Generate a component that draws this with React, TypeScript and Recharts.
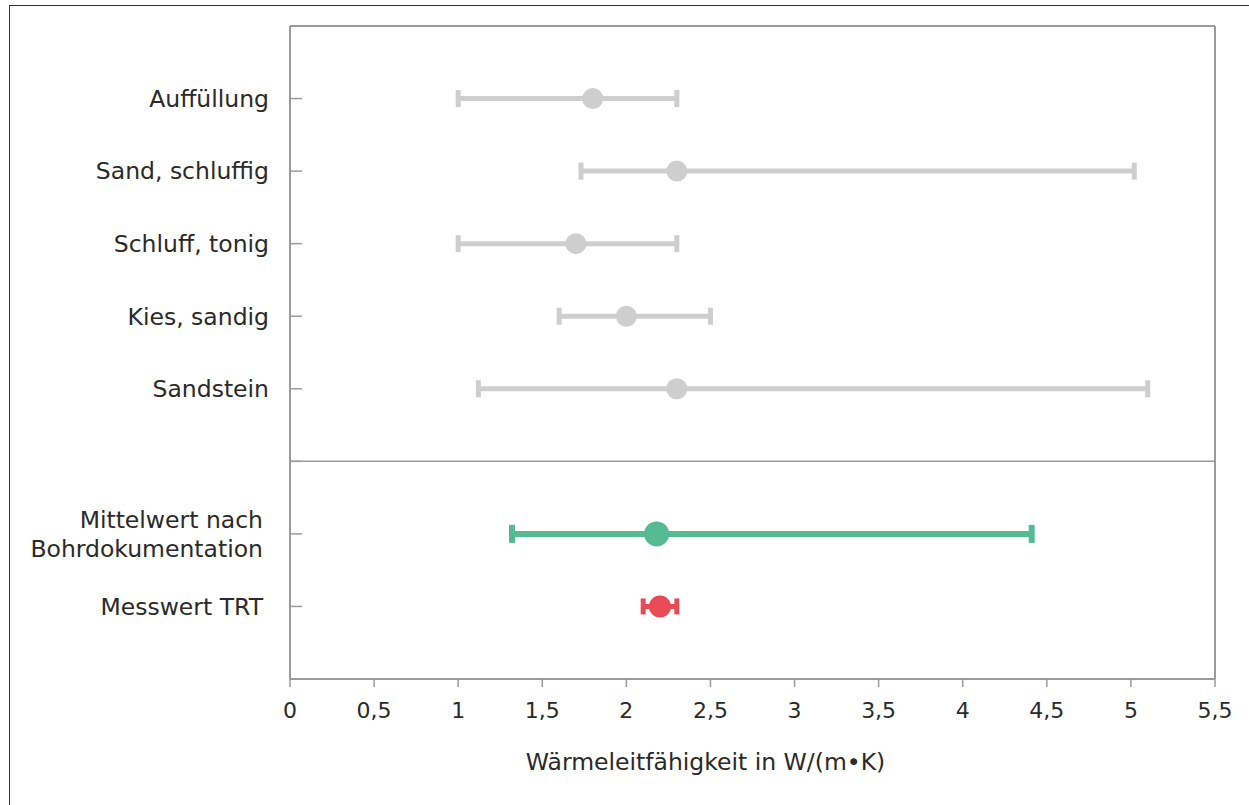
import React from 'react';
import { ScatterChart, Scatter, XAxis, YAxis, ErrorBar, ReferenceLine, Label } from 'recharts';

// Category labels by row position (row 6 is the separator line)
const rowLabels = [
  'Auffüllung',
  'Sand, schluffig',
  'Schluff, tonig',
  'Kies, sandig',
  'Sandstein',
  '',
  'Mittelwert nach\nBohrdokumentation',
  'Messwert TRT',
];
const rowTicks = [1, 2, 3, 4, 5, 6, 7, 8];

// Soil types (literature ranges)
const soilRows = [1, 2, 3, 4, 5];
const soilMeans = [1.8, 2.3, 1.7, 2.0, 2.3];
const soilLows = [1.0, 1.73, 1.0, 1.6, 1.12];
const soilHighs = [2.3, 5.02, 2.3, 2.5, 5.1];

// Mean after borehole documentation
const boreRows = [7];
const boreMeans = [2.18];
const boreLows = [1.32];
const boreHighs = [4.41];

// Measured TRT value
const trtRows = [8];
const trtMeans = [2.2];
const trtLows = [2.1];
const trtHighs = [2.3];

const xTicks = [0, 0.5, 1, 1.5, 2, 2.5, 3, 3.5, 4, 4.5, 5, 5.5];
const xTitle = 'Wärmeleitfähigkeit in W/(m•K)';

const build = (rows: number[], means: number[], lows: number[], highs: number[]) =>
  rows.map((r, i) => ({ x: means[i], y: r, err: [means[i] - lows[i], highs[i] - means[i]] }));

const soilData = build(soilRows, soilMeans, soilLows, soilHighs);
const boreData = build(boreRows, boreMeans, boreLows, boreHighs);
const trtData = build(trtRows, trtMeans, trtLows, trtHighs);

const FONT = '"DejaVu Sans", "Open Sans", sans-serif';
const TEXT = '#2a2a2a';
const AXIS = '#9b9b9b';
const GRAY = '#cfcecf';
const GREEN = '#56ba93';
const RED = '#e84b55';
const LABEL_SIZE = 23.5;

const YTick = (props: any) => {
  const { x, y, payload } = props;
  const label = rowLabels[payload.value - 1] ?? '';
  const lines = label ? label.split('\n') : [];
  const tx = payload.value >= 7 ? x - 27 : x - 21;
  const lh = 29;
  return (
    <g>
      <line x1={x} x2={x + 12} y1={y} y2={y} stroke={AXIS} strokeWidth={1.5} />
      <text textAnchor="end" fontSize={LABEL_SIZE} fill={TEXT} fontFamily={FONT}>
        {lines.map((l, i) => (
          <tspan key={i} x={tx} y={y + 8.3 - ((lines.length - 1) * lh) / 2 + i * lh}>
            {l}
          </tspan>
        ))}
      </text>
    </g>
  );
};

const dot = (r: number, fill: string) => (p: any) => <circle cx={p.cx} cy={p.cy} r={r} fill={fill} />;

const TitleLabel = (props: any) => {
  const vb = props.viewBox || {};
  return (
    <text
      x={vb.x + vb.width / 2 - 47}
      y={770}
      textAnchor="middle"
      fontSize={LABEL_SIZE}
      fill={TEXT}
      fontFamily={FONT}
    >
      {xTitle}
    </text>
  );
};

export default function App() {
  return (
    <div
      style={{
        position: 'fixed',
        left: 0,
        top: 0,
        width: 1249,
        height: 805,
        overflow: 'hidden',
        background: '#fff',
      }}
    >
      <div
        style={{
          position: 'absolute',
          left: 9,
          top: 5,
          width: 1300,
          height: 900,
          border: '1.5px solid #333',
          boxSizing: 'border-box',
        }}
      />
      <div style={{ position: 'absolute', left: 0, top: 0 }}>
        <ScatterChart width={1249} height={805} margin={{ top: 26, right: 34, bottom: 0, left: 0 }}>
          <XAxis
            type="number"
            dataKey="x"
            domain={[0, 5.5]}
            ticks={xTicks}
            allowDataOverflow
            height={126}
            stroke={AXIS}
            axisLine={{ stroke: AXIS, strokeWidth: 2 }}
            tickLine={{ stroke: AXIS, strokeWidth: 1.5 }}
            tickSize={8}
            tickMargin={15}
            tick={{ fontSize: 22, fill: TEXT, fontFamily: FONT }}
            tickFormatter={(v: number) => String(v).replace('.', ',')}
          >
            <Label content={<TitleLabel />} />
          </XAxis>
          <YAxis
            type="number"
            dataKey="y"
            domain={[0, 9]}
            ticks={rowTicks}
            reversed
            width={290}
            axisLine={{ stroke: AXIS, strokeWidth: 2 }}
            tickLine={false}
            tickSize={0}
            tickMargin={0}
            tick={<YTick />}
            interval={0}
          />
          <ReferenceLine y={0} stroke={AXIS} strokeWidth={2} />
          <ReferenceLine x={5.5} stroke={AXIS} strokeWidth={2} />
          <ReferenceLine y={6} stroke={AXIS} strokeWidth={1.5} />
          <Scatter data={soilData} fill={GRAY} shape={dot(10.5, GRAY)} isAnimationActive={false}>
            <ErrorBar dataKey="err" direction="x" width={8.5} strokeWidth={5} stroke={GRAY} isAnimationActive={false} />
          </Scatter>
          <Scatter data={boreData} fill={GREEN} shape={dot(12.5, GREEN)} isAnimationActive={false}>
            <ErrorBar dataKey="err" direction="x" width={9} strokeWidth={6} stroke={GREEN} isAnimationActive={false} />
          </Scatter>
          <Scatter data={trtData} fill={RED} shape={dot(11, RED)} isAnimationActive={false}>
            <ErrorBar dataKey="err" direction="x" width={8} strokeWidth={5} stroke={RED} isAnimationActive={false} />
          </Scatter>
        </ScatterChart>
      </div>
    </div>
  );
}
